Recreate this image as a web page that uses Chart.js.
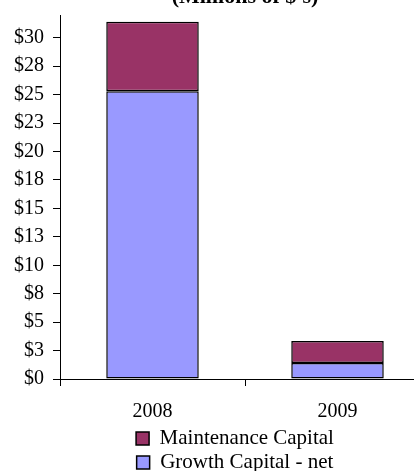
<!DOCTYPE html>
<html>
<head>
<meta charset="utf-8">
<script src="https://cdn.jsdelivr.net/npm/chart.js@4"></script>
<style>
  html, body { margin: 0; padding: 0; background: #fff; overflow: hidden; }
  #wrap { position: absolute; left: 0; top: -20px; width: 430px; height: 503px; }
</style>
</head>
<body>
<div id="wrap"><canvas id="capexChart"></canvas></div>
<script>
const categories = ['2008', '2009'];
const growthCapital = [25.3, 1.4];
const maintenanceCapital = [6.1, 1.95];
const tickValues = [0, 2.5, 5, 7.5, 10, 12.5, 15, 17.5, 20, 22.5, 25, 27.5, 30];
const tickLabels = ['$0', '$3', '$5', '$8', '$10', '$13', '$15', '$18', '$20', '$23', '$25', '$28', '$30'];

const serif = '"Liberation Serif", "Times New Roman", serif';
Chart.defaults.font.family = serif;
Chart.defaults.color = '#000';

const ctx = document.getElementById('capexChart').getContext('2d');

// nudge the legend a little to the left, like the original
const legendShift = {
    id: 'legendShift',
    afterLayout: chart => {
        chart.legend.left -= 10;
        chart.legend.right -= 10;
    }
};

new Chart(ctx, {
    type: 'bar',
    data: {
        labels: categories,
        datasets: [{
            label: 'Growth Capital - net',
            data: growthCapital,
            backgroundColor: '#9999FF',
            borderColor: '#000',
            borderWidth: 1.5,
            borderSkipped: false,
            barPercentage: 0.5,
            categoryPercentage: 1
        }, {
            label: 'Maintenance Capital',
            data: maintenanceCapital,
            backgroundColor: '#993366',
            borderColor: '#000',
            borderWidth: 1.5,
            borderSkipped: false,
            barPercentage: 0.5,
            categoryPercentage: 1
        }]
    },
    options: {
        responsive: true,
        maintainAspectRatio: false,
        animation: false,
        layout: { padding: 0 },
        plugins: {
            title: {
                display: true,
                text: "(Millions of $'s)",
                fullSize: false,
                font: { size: 22, weight: 'bold' },
                padding: { top: 4, bottom: 4.6 }
            },
            legend: {
                position: 'bottom',
                fullSize: false,
                reverse: true,
                labels: {
                    font: { size: 21 },
                    boxWidth: 13,
                    boxHeight: 13,
                    padding: 3
                }
            },
            tooltip: { enabled: false }
        },
        scales: {
            x: {
                stacked: true,
                border: { display: true, color: '#000', width: 1 },
                grid: { drawOnChartArea: false, tickLength: 7, color: '#000' },
                afterFit: axis => { axis.height = 46; },
                ticks: { font: { size: 20 }, padding: 14 }
            },
            y: {
                stacked: true,
                min: 0,
                max: 32,
                border: { display: true, color: '#000', width: 1 },
                grid: { drawOnChartArea: false, tickLength: 7, color: '#000' },
                afterBuildTicks: axis => {
                    axis.ticks = tickValues.map(v => ({ value: v }));
                },
                afterFit: axis => { axis.width = 60; },
                ticks: {
                    font: { size: 20 },
                    padding: 9,
                    callback: (value, i) => tickLabels[i]
                }
            }
        }
    },
    plugins: [legendShift]
});
</script>
</body>
</html>
